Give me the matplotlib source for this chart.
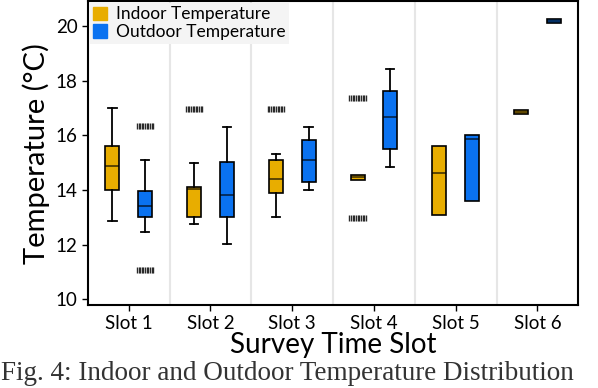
import matplotlib.pyplot as plt
import numpy as np

plt.rcParams['font.family'] = ['Lato', 'DejaVu Sans']

slots = ['Slot 1', 'Slot 2', 'Slot 3', 'Slot 4', 'Slot 5', 'Slot 6']

# box stats: whisker low, q1, median, q3, whisker high
indoor_wlo = [12.85, 12.75, 13.0, 14.35, 13.1, 16.79]
indoor_q1 = [14.0, 13.03, 13.9, 14.35, 13.1, 16.79]
indoor_med = [14.88, 14.04, 14.4, 14.46, 14.62, 16.85]
indoor_q3 = [15.6, 14.11, 15.08, 14.56, 15.61, 16.91]
indoor_whi = [17.0, 15.0, 15.3, 14.56, 15.61, 16.91]

outdoor_wlo = [12.45, 12.02, 14.0, 14.84, 13.61, 20.12]
outdoor_q1 = [13.03, 13.03, 14.3, 15.51, 13.61, 20.12]
outdoor_med = [13.43, 13.8, 15.11, 16.66, 15.88, 20.18]
outdoor_q3 = [13.98, 15.01, 15.84, 17.61, 16.0, 20.24]
outdoor_whi = [15.1, 16.31, 16.31, 18.42, 16.0, 20.24]

# outliers
indoor_out = [[], [16.97], [16.97], [17.35, 12.96], [], []]
outdoor_out = [[16.35, 11.06], [], [], [], [], []]

c_in = '#E8AD00'
c_out = '#0A72F0'

fig = plt.figure(figsize=(5.98, 3.88), dpi=100)
ax = fig.add_axes([0.147, 0.214, 0.82, 0.783])

x = np.arange(len(slots))
off = 0.2
w = 0.17


def stats(lo, q1, med, q3, hi):
    return [dict(whislo=a, q1=b, med=c, q3=d, whishi=e, fliers=[])
            for a, b, c, d, e in zip(lo, q1, med, q3, hi)]


for st, pos, col in [
    (stats(indoor_wlo, indoor_q1, indoor_med, indoor_q3, indoor_whi), x - off, c_in),
    (stats(outdoor_wlo, outdoor_q1, outdoor_med, outdoor_q3, outdoor_whi), x + off, c_out),
]:
    # no caps where the whiskers collapse onto the box
    caps = [0.0 if (s['whislo'] == s['q1'] and s['whishi'] == s['q3']) else 0.1 for s in st]
    ax.bxp(st, positions=pos, widths=w, patch_artist=True, showfliers=False,
           boxprops=dict(facecolor=col, edgecolor='black', linewidth=1.2),
           medianprops=dict(color='black', linewidth=1.2, alpha=0.7),
           whiskerprops=dict(color='black', linewidth=1.3),
           capprops=dict(color='black', linewidth=1.3), capwidths=caps)

# outliers drawn as a dense strip of small ticks
strip = np.linspace(-0.1, 0.1, 11)
for i in range(len(slots)):
    for v in indoor_out[i]:
        ax.plot(x[i] - off + strip, [v] * len(strip), ls='none', marker='|',
                ms=5, mew=1, color='#2a2a2a')
    for v in outdoor_out[i]:
        ax.plot(x[i] + off + strip, [v] * len(strip), ls='none', marker='|',
                ms=5, mew=1, color='#2a2a2a')

for s in np.arange(0.5, len(slots) - 0.5):
    ax.axvline(s, color='#e6e6e6', lw=1.5, zorder=0)

ax.set_xlim(-0.5, len(slots) - 0.5)
ax.set_ylim(9.8, 20.9)
ax.set_yticks([10, 12, 14, 16, 18, 20])
ax.set_xticks(x)
ax.set_xticklabels(slots)
ax.tick_params(axis='both', labelsize=13.5, width=1, length=4, color='black')
ax.tick_params(axis='x', pad=3)
ax.set_xlabel('Survey Time Slot', fontsize=20, labelpad=0)
ax.set_ylabel('Temperature (°C)', fontsize=21, labelpad=4)
for sp in ax.spines.values():
    sp.set_linewidth(1.5)

handles = [plt.Rectangle((0, 0), 1, 1, color=c_in), plt.Rectangle((0, 0), 1, 1, color=c_out)]
leg = ax.legend(handles, ['Indoor Temperature', 'Outdoor Temperature'], loc='upper left',
                fontsize=12.5, frameon=True, fancybox=False, borderaxespad=0.1,
                handlelength=0.8, handleheight=0.8, handletextpad=0.5, labelspacing=0.1,
                borderpad=0.2)
leg.get_frame().set_facecolor('#f4f4f4')
leg.get_frame().set_edgecolor('none')
leg.get_frame().set_alpha(1)

fig.text(0.002, 0.004, 'Fig. 4: Indoor and Outdoor Temperature Distribution', fontsize=19.5,
         family='Liberation Serif', color='#333333', va='bottom', ha='left')

fig.savefig('out.png', dpi=100)
